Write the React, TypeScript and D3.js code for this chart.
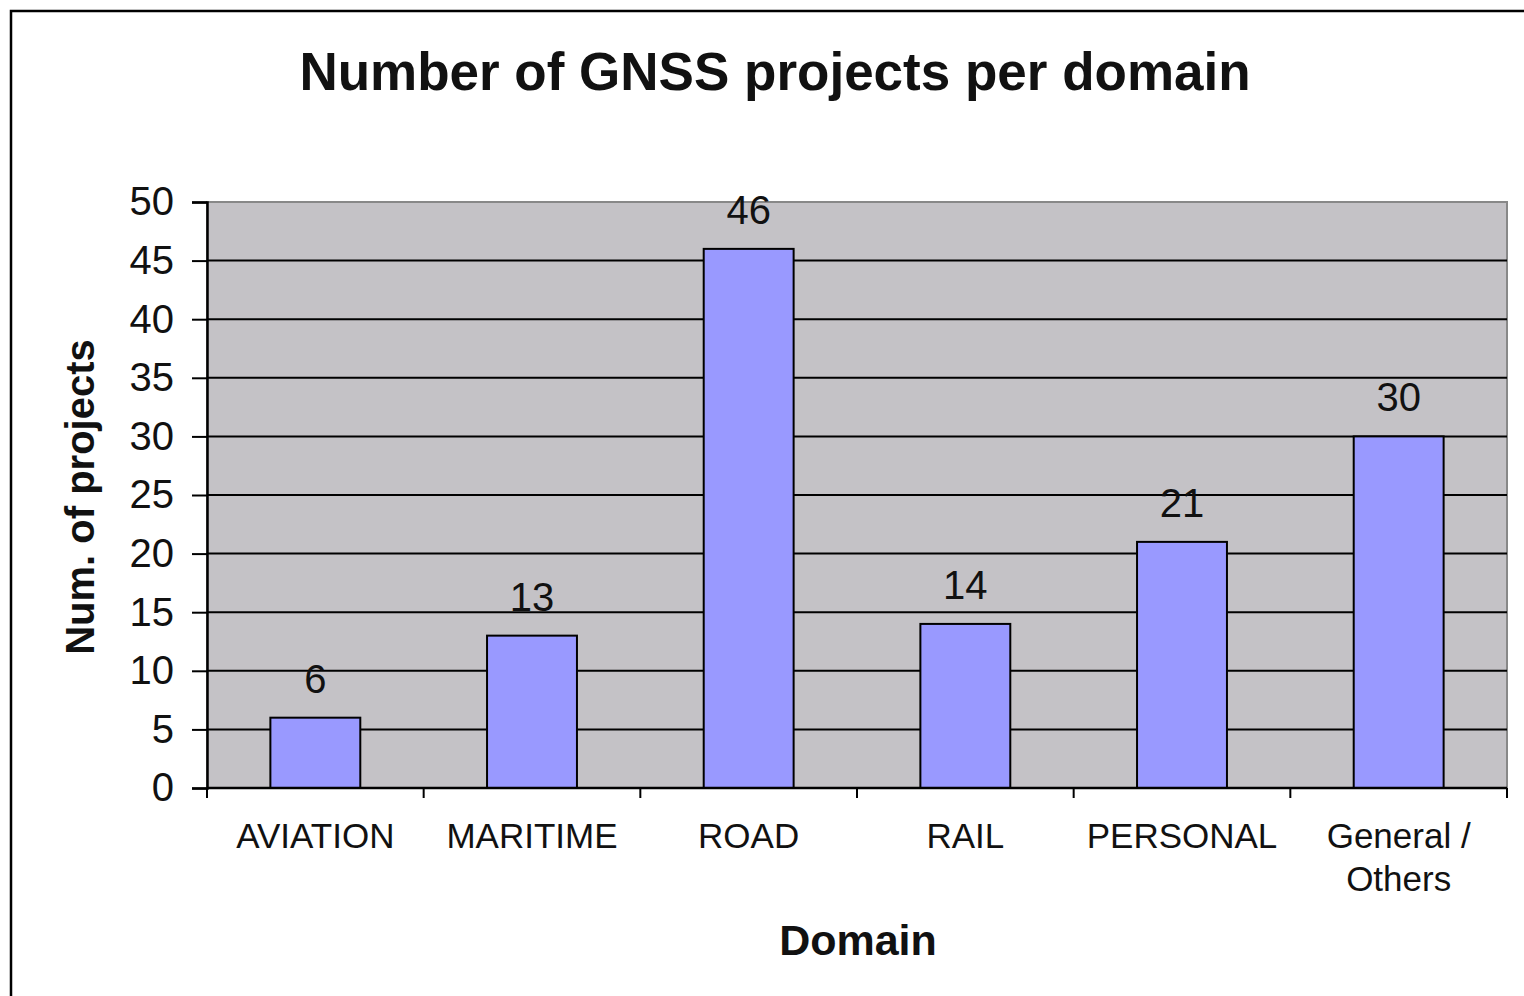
import { useEffect, useRef } from 'react';
import * as d3 from 'd3';

const categories = ['AVIATION', 'MARITIME', 'ROAD', 'RAIL', 'PERSONAL', 'General / Others'];
const projectCounts = [6, 13, 46, 14, 21, 30];
const yTicks = [0, 5, 10, 15, 20, 25, 30, 35, 40, 45, 50];

const App = () => {
  const svgRef = useRef<SVGSVGElement>(null);
  const width = 1524;
  const height = 996;

  useEffect(() => {
    if (!svgRef.current) return;
    const svg = d3.select(svgRef.current);
    svg.selectAll('*').remove();

    const font = '"Liberation Sans", Arial, sans-serif';
    const plot = { left: 207, top: 202, right: 1507, bottom: 788 };

    // outer chart frame
    svg.append('rect')
      .attr('x', 11).attr('y', 11)
      .attr('width', 1600).attr('height', 1100)
      .attr('fill', '#fff')
      .attr('stroke', '#000')
      .attr('stroke-width', 2.5);

    const x = d3.scaleBand<string>()
      .domain(categories)
      .range([plot.left, plot.right])
      .paddingInner(0.585)
      .paddingOuter(0.2925);

    const band = d3.scaleBand<string>()
      .domain(categories)
      .range([plot.left, plot.right]);

    const y = d3.scaleLinear().domain([0, 50]).range([plot.bottom, plot.top]);

    // plot background
    svg.append('rect')
      .attr('x', plot.left).attr('y', plot.top)
      .attr('width', plot.right - plot.left)
      .attr('height', plot.bottom - plot.top)
      .attr('fill', '#c4c2c6')
      .attr('stroke', '#888')
      .attr('stroke-width', 2);

    // gridlines
    svg.append('g')
      .selectAll('line')
      .data(yTicks.filter(t => t > 0 && t < 50))
      .join('line')
      .attr('x1', plot.left).attr('x2', plot.right)
      .attr('y1', d => y(d)).attr('y2', d => y(d))
      .attr('stroke', '#000')
      .attr('stroke-width', 2);

    // bars
    svg.append('g')
      .selectAll('rect')
      .data(projectCounts)
      .join('rect')
      .attr('x', (_, i) => x(categories[i])!)
      .attr('y', d => y(d))
      .attr('width', x.bandwidth())
      .attr('height', d => y(0) - y(d))
      .attr('fill', '#9999ff')
      .attr('stroke', '#000')
      .attr('stroke-width', 2);

    // value labels
    svg.append('g')
      .selectAll('text')
      .data(projectCounts)
      .join('text')
      .attr('x', (_, i) => x(categories[i])! + x.bandwidth() / 2)
      .attr('y', d => y(d) - 25)
      .attr('text-anchor', 'middle')
      .attr('font-family', font)
      .attr('font-size', 40)
      .attr('fill', '#111')
      .text(d => d);

    // y axis
    const yAxis = svg.append('g')
      .attr('transform', `translate(${plot.left},0)`)
      .call(d3.axisLeft(y).tickValues(yTicks).tickSize(15).tickPadding(18));
    yAxis.select('.domain').attr('stroke', '#000').attr('stroke-width', 2.5);
    yAxis.selectAll('.tick line').attr('stroke', '#000').attr('stroke-width', 2);
    yAxis.selectAll('.tick text')
      .attr('font-family', font)
      .attr('font-size', 40)
      .attr('fill', '#111');

    // x axis
    const boundaries = [...categories.map(c => band(c)!), plot.right];
    const xAxis = svg.append('g');
    xAxis.append('line')
      .attr('x1', plot.left).attr('x2', plot.right)
      .attr('y1', plot.bottom).attr('y2', plot.bottom)
      .attr('stroke', '#000').attr('stroke-width', 2.5);
    xAxis.selectAll('line.tick')
      .data(boundaries)
      .join('line')
      .attr('class', 'tick')
      .attr('x1', d => d).attr('x2', d => d)
      .attr('y1', plot.bottom).attr('y2', plot.bottom + 10)
      .attr('stroke', '#000').attr('stroke-width', 2);

    const labels = xAxis.selectAll('text')
      .data(categories)
      .join('text')
      .attr('x', d => band(d)! + band.bandwidth() / 2)
      .attr('y', 848)
      .attr('text-anchor', 'middle')
      .attr('font-family', font)
      .attr('font-size', 35)
      .attr('fill', '#111');
    labels.each(function (d) {
      const t = d3.select(this);
      const cx = band(d)! + band.bandwidth() / 2;
      if (d.includes('/')) {
        const parts = ['General /', 'Others'];
        parts.forEach((p, i) => {
          t.append('tspan').attr('x', cx).attr('dy', i === 0 ? 0 : 43).text(p);
        });
      } else {
        t.text(d);
      }
    });

    // titles
    svg.append('text')
      .attr('x', 775).attr('y', 90)
      .attr('text-anchor', 'middle')
      .attr('font-family', font)
      .attr('font-weight', 'bold')
      .attr('font-size', 53)
      .attr('fill', '#111')
      .text('Number of GNSS projects per domain');

    svg.append('text')
      .attr('x', 858).attr('y', 955)
      .attr('text-anchor', 'middle')
      .attr('font-family', font)
      .attr('font-weight', 'bold')
      .attr('font-size', 43)
      .attr('fill', '#111')
      .text('Domain');

    svg.append('text')
      .attr('transform', `translate(94,497) rotate(-90)`)
      .attr('text-anchor', 'middle')
      .attr('font-family', font)
      .attr('font-weight', 'bold')
      .attr('font-size', 40)
      .attr('fill', '#111')
      .text('Num. of projects');
  }, []);

  return (
    <svg
      ref={svgRef}
      width={width}
      height={height}
      style={{ position: 'absolute', left: 0, top: 0, background: '#fff' }}
    />
  );
};

export default App;
